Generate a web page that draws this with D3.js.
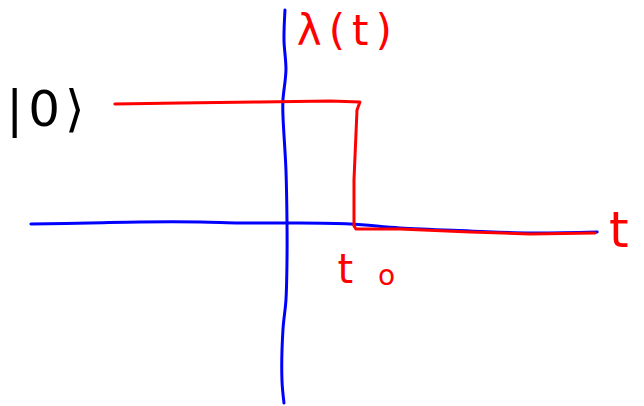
<!DOCTYPE html>
<html lang="en">
<head>
    <meta charset="UTF-8">
    <title>Step in lambda(t)</title>
    <script src="https://d3js.org/d3.v7.min.js"></script>
    <style>
        body { margin: 0; background: white; }
        svg { display: block; background: white; }
        path { fill: none; stroke-linecap: round; stroke-linejoin: round; }
        text { font-family: "DejaVu Sans", sans-serif; }
    </style>
</head>
<body>
    <svg width="644" height="406" id="sketch"></svg>
    <script>
        // hand drawn axes (t, lambda)
        const tAxisT   = [-3.63, -2.79, -2.07, -1.21, -0.64, 0.01, 0.93, 1.64, 2.64, 3.5, 4.46];
        const tAxisL   = [0, 0.008, 0.016, 0.016, 0.008, 0.008, 0, -0.033, -0.057, -0.074, -0.066];
        const lAxisT   = [0, -0.014, 0.014, -0.029, -0.029, 0.014, 0.029, 0.029, 0.014, -0.029, -0.043, -0.014];
        const lAxisL   = [1.754, 1.508, 1.262, 1.016, 0.893, 0.443, 0.016, -0.295, -0.623, -0.869, -1.279, -1.467];

        // the step function lambda(t), 1 before t0 then 0
        const stepT = [-2.43, -1.5, -0.357, 0.643, 1.071, 1.029, 0.986, 0.986, 1.014, 1.643, 2.643, 3.5, 4.43];
        const stepL = [0.984, 0.992, 1.0, 1.008, 1.0, 0.934, 0.361, -0.016, -0.041, -0.041, -0.066, -0.082, -0.074];

        // labels
        const labels = [
            { text: "λ(t)", t: 0.17, l: 1.47, size: 42, spacing: 7, color: "red" },
            { text: "|0⟩", t: -3.98, l: 0.8, size: 50, spacing: 5, color: "black" },
            { text: "t", t: 4.63, l: -0.19, size: 50, spacing: 0, color: "red" },
            { text: "t", t: 0.75, l: -0.48, size: 40, spacing: 0, color: "red" },
            { text: "o", t: 1.33, l: -0.5, size: 28, spacing: 0, color: "red" }
        ];

        const svg = d3.select("#sketch");
        const x = d3.scaleLinear().domain([-4.071, 5.129]).range([0, 644]);
        const y = d3.scaleLinear().domain([1.836, -1.492]).range([0, 406]);

        const line = d3.line()
            .x(d => x(d[0]))
            .y(d => y(d[1]))
            .curve(d3.curveCatmullRom);

        svg.append("path")
            .attr("d", line(d3.zip(tAxisT, tAxisL)))
            .attr("stroke", "blue")
            .attr("stroke-width", 3);

        svg.append("path")
            .attr("d", line(d3.zip(lAxisT, lAxisL)))
            .attr("stroke", "blue")
            .attr("stroke-width", 3);

        svg.append("path")
            .attr("d", line.curve(d3.curveLinear)(d3.zip(stepT, stepL)))
            .attr("stroke", "red")
            .attr("stroke-width", 3);

        svg.selectAll("text")
            .data(labels)
            .enter()
            .append("text")
            .attr("x", d => x(d.t))
            .attr("y", d => y(d.l))
            .attr("font-size", d => d.size)
            .attr("letter-spacing", d => d.spacing)
            .attr("fill", d => d.color)
            .text(d => d.text);
    </script>
</body>
</html>
